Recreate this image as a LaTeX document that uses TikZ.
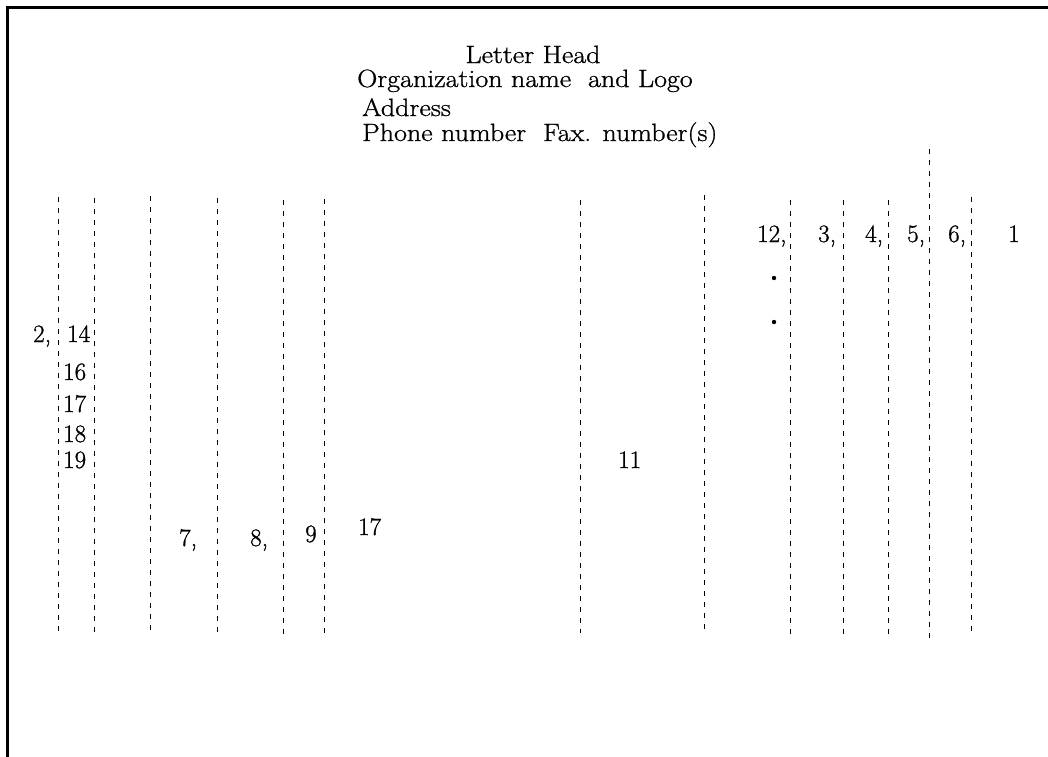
\documentclass[tikz,border=0pt]{standalone}
\usepackage{fontspec}
\setmainfont{Latin Modern Roman}
\newfontfamily\hdfont{Latin Modern Roman}[FakeBold=1.0,FakeStretch=1.12]
\newfontfamily\numfont{Latin Modern Roman}[FakeBold=1.0]
\begin{document}
\begin{tikzpicture}[x=1pt,y=-1pt,
  lab/.style={anchor=base west,inner sep=0pt,font=\numfont\fontsize{25}{30}\selectfont},
  head/.style={anchor=base west,inner sep=0pt,font=\hdfont\fontsize{25}{30}\selectfont},
  guide/.style={draw=black,line width=0.9pt,dash pattern=on 5pt off 6pt},
  frameline/.style={draw=black,line width=2.4pt}]
\useasboundingbox (0,0) rectangle (1048,756);
\clip (0,0) rectangle (1048,756);
\draw[frameline] (7.5,760) -- (7.5,7.5) -- (1052,7.5);
% header
\node[head,anchor=base] (lh) at (533,63) {Letter Head};
\node[head] (org) at (357,87) {Organization name\ \ and Logo};
\node[head] (adr) at (362,116) {Address};
\node[head] (ph) at (362,141) {Phone number\ \ Fax. number(s)};
% guide lines
\foreach \gx/\ga/\gb in {58/197/633, 94/198/633, 150/196/633, 217/198/633,
  283/200/635, 324/199/635, 580/200/633, 704/195/630, 790/200/635,
  843/200/635, 888/200/635, 929/149/641, 971/197/632}
  \draw[guide] (\gx,\ga) -- (\gx,\gb);
% right numbers
\node[lab] (n12) at (757,242) {12,};
\node[lab] (n3) at (818,242) {3,};
\node[lab] (n4) at (865,242) {4,};
\node[lab] (n5) at (907,242) {5,};
\node[lab] (n6) at (948,242) {6,};
\node[lab] (n1) at (1008,242) {1};
\fill (774,278) circle (2.2pt);
\fill (774,322) circle (2.2pt);
% left numbers
\node[lab] (n2) at (33,342) {2,};
\node[lab] (n14) at (67,342) {14};
\node[lab] (n16) at (63,380) {16};
\node[lab] (n17a) at (63,412) {17};
\node[lab] (n18) at (63,442) {18};
\node[lab] (n19) at (63,468) {19};
% bottom numbers
\node[lab] (n7) at (179,546) {7,};
\node[lab] (n8) at (250,546) {8,};
\node[lab] (n9) at (305,542) {9};
\node[lab] (n17b) at (358,535) {17};
\node[lab] (n11) at (618,468) {11};
\end{tikzpicture}
\end{document}
